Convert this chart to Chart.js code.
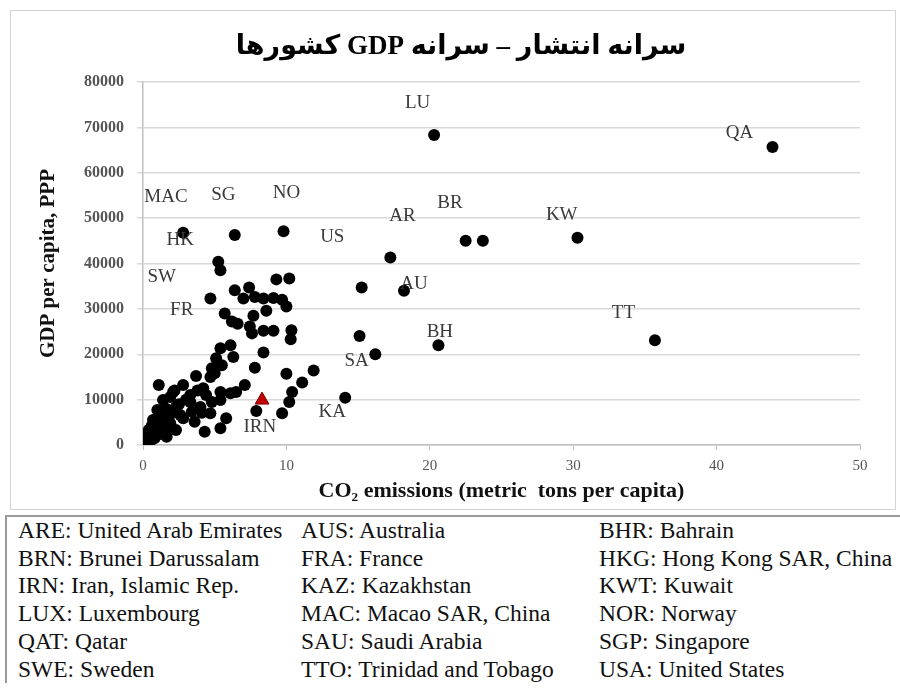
<!DOCTYPE html>
<html lang="en">
<head>
  <meta charset="UTF-8">
  <title>CO2 vs GDP per capita</title>
  <style>
    body {
      margin: 0;
      background: #fff;
      width: 900px;
      height: 695px;
      overflow: hidden;
      font-family: 'Liberation Serif', serif;
    }
    .chart-box {
      position: absolute;
      left: 10px;
      top: 10px;
      width: 884px;
      height: 498px;
      border: 1px solid #d4d4d4;
    }
    .legend-table {
      position: absolute;
      left: 5px;
      top: 515px;
      width: 895px;
      border-top: 2px solid #9a9a9a;
      border-left: 2px solid #9a9a9a;
      border-collapse: collapse;
      font-size: 23.5px;
      color: #111;
    }
    .legend-table td {
      padding: 0;
      height: 27.7px;
      line-height: 27.7px;
      white-space: nowrap;
    }
  </style>
  <script src="https://cdn.jsdelivr.net/npm/chart.js"></script>
</head>
<body>
  <div class="chart-box">
    <canvas id="co2Chart" width="884" height="498"></canvas>
  </div>
  <table class="legend-table" id="codes"></table>
  <script>
    // CO2 emissions (t per capita) and GDP per capita (PPP)
    const co2 = [20.3, 43.9, 2.8, 6.4, 9.8, 17.25, 22.5, 23.7, 30.3, 18.2, 15.25, 35.7, 20.6, 15.1, 16.2, 14.1,
      5.25, 5.4, 9.3, 10.2, 4.7, 6.4, 7.4, 7.0, 7.8, 8.4, 9.1, 9.7, 10.0, 5.7, 7.7, 8.6, 6.2, 6.6, 7.45, 7.6,
      8.4, 9.1, 10.35, 10.3, 5.4, 6.1, 5.1, 6.3, 4.8, 5.5, 8.4, 7.8, 11.9, 10.0, 11.1, 10.4, 10.2, 9.7, 7.9, 7.1,
      3.7, 5.0, 4.7, 2.8, 1.1, 4.2, 4.4, 5.4, 6.1, 6.5, 5.4, 4.8, 3.3, 3.4, 4.1, 4.7, 5.8, 5.4, 4.3, 3.6, 2.8,
      2.3, 1.9, 2.1, 1.4, 1.0, 0.7, 1.4, 1.9, 1.2, 0.5, 0.14, 0.4, 2.3, 1.65, 0.8, 2.6, 4.0, 3.3, 2.2, 3.0, 1.6,
      2.0, 0.6, 0.3, 0.1, 0.2, 0.9, 1.3, 2.5, 3.8, 0.5, 1.0, 1.7];
    const gdp = [68300, 65700, 46800, 46300, 47100, 41300, 45000, 45000, 45700, 34000, 34700, 23100, 22000, 24000, 20000, 10400,
      40400, 38500, 36500, 36700, 32300, 34100, 34700, 32300, 32600, 32300, 32400, 32000, 30500, 29000, 28500, 29600, 27200, 26700, 26100, 24600,
      25200, 25200, 25300, 23300, 21300, 22000, 19100, 19400, 16900, 17600, 20400, 17000, 16400, 15700, 13800, 11700, 9500, 7000, 7500, 13200,
      15200, 15800, 15000, 13200, 13200, 12500, 11000, 11700, 11400, 11700, 9900, 9500, 9500, 7300, 7100, 7000, 5900, 3700, 2900, 5100, 5900,
      8400, 10600, 11700, 9900, 7700, 5500, 6200, 4800, 3300, 2600, 1100, 3300, 3300, 1800, 1500, 6600, 8400, 11000, 12000, 10000, 8000,
      7000, 4200, 2000, 600, 300, 3000, 5000, 9000, 12000, 800, 2200, 3800];
    const iranCo2 = [8.3];
    const iranGdp = [9900];

    // point labels, placed where the text sits (data units)
    const labelCodes = ['LU', 'QA', 'MAC', 'SG', 'NO', 'HK', 'US', 'AR', 'BR', 'KW', 'SW', 'AU', 'FR', 'TT', 'BH', 'SA', 'KA', 'IRN'];
    const labelX = [19.15, 41.6, 1.6, 5.6, 10.0, 2.6, 13.2, 18.1, 21.4, 29.2, 1.3, 18.9, 2.7, 33.5, 20.7, 14.9, 13.2, 8.15];
    const labelY = [75300, 68700, 54600, 55100, 55500, 45200, 45800, 50400, 53300, 50700, 37000, 35500, 29700, 29100, 24900, 18500, 7300, 4000];

    const xTicks = [0, 10, 20, 30, 40, 50];
    const yTicks = [0, 10000, 20000, 30000, 40000, 50000, 60000, 70000, 80000];

    const codeList = [
      'ARE: United Arab Emirates', 'AUS: Australia', 'BHR: Bahrain',
      'BRN: Brunei Darussalam', 'FRA: France', 'HKG: Hong Kong SAR, China',
      'IRN: Iran, Islamic Rep.', 'KAZ: Kazakhstan', 'KWT: Kuwait',
      'LUX: Luxembourg', 'MAC: Macao SAR, China', 'NOR: Norway',
      'QAT: Qatar', 'SAU: Saudi Arabia', 'SGP: Singapore',
      'SWE: Sweden', 'TTO: Trinidad and Tobago', 'USA: United States'
    ];

    // legend table under the chart
    let html = '<colgroup><col style="width:295px"><col style="width:298px"><col></colgroup>';
    for (let r = 0; r < codeList.length; r += 3) {
      html += '<tr>';
      for (let c = 0; c < 3; c++) {
        html += `<td style="padding-left:${c === 0 ? 11 : 0}px">${codeList[r + c]}</td>`;
      }
      html += '</tr>';
    }
    document.getElementById('codes').innerHTML = html;

    const points = co2.map((v, i) => ({ x: v, y: gdp[i] }));
    const iranPoints = iranCo2.map((v, i) => ({ x: v, y: iranGdp[i] }));

    // title (rtl) and country code labels
    const annotations = {
      id: 'annotations',
      afterDatasetsDraw(chart) {
        const { ctx, scales } = chart;
        ctx.save();
        ctx.fillStyle = '#3a3a3a';
        ctx.font = '19px "Liberation Serif"';
        ctx.textAlign = 'center';
        ctx.textBaseline = 'middle';
        labelCodes.forEach((t, i) => {
          ctx.fillText(t, scales.x.getPixelForValue(labelX[i]), scales.y.getPixelForValue(labelY[i]));
        });
        ctx.direction = 'rtl';
        ctx.fillStyle = '#000';
        ctx.font = 'bold 27px "Liberation Serif", "DejaVu Sans"';
        ctx.fillText('سرانه انتشار – سرانه GDP کشورها', 450, 36);
        ctx.restore();
      }
    };

    const ctx = document.getElementById('co2Chart').getContext('2d');
    new Chart(ctx, {
      type: 'scatter',
      data: {
        datasets: [{
          label: 'Countries',
          data: points,
          backgroundColor: '#000',
          borderColor: '#000',
          borderWidth: 0,
          pointRadius: 6
        }, {
          label: 'Iran',
          data: iranPoints,
          pointStyle: 'triangle',
          backgroundColor: '#c00000',
          borderColor: '#800000',
          borderWidth: 1,
          pointRadius: 8
        }]
      },
      options: {
        responsive: false,
        animation: false,
        layout: { padding: { top: 71, right: 35, bottom: 0, left: 0 } },
        plugins: {
          legend: { display: false },
          tooltip: { enabled: false }
        },
        scales: {
          x: {
            type: 'linear',
            min: 0,
            max: 50,
            afterBuildTicks: s => { s.ticks = xTicks.map(v => ({ value: v })); },
            afterFit: s => { s.height = 64; },
            ticks: { color: '#555', font: { family: 'Liberation Serif', size: 15 }, padding: 7 },
            grid: { drawOnChartArea: false, tickLength: 5, color: '#bfbfbf' },
            border: { color: '#bfbfbf', width: 1.5 },
            title: {
              display: true,
              text: 'CO₂ emissions (metric  tons per capita)',
              color: '#111',
              font: { family: 'Liberation Serif', size: 22, weight: 'bold' },
              padding: { top: 0, bottom: 4 }
            }
          },
          y: {
            min: 0,
            max: 80000,
            afterBuildTicks: s => { s.ticks = yTicks.map(v => ({ value: v })); },
            afterFit: s => { s.width = 132; },
            ticks: {
              color: '#555',
              font: { family: 'Liberation Serif', size: 16, weight: 'bold' },
              padding: 13,
              callback: v => String(v)
            },
            grid: { color: '#d9d9d9', lineWidth: 1.5, tickLength: 6 },
            border: { color: '#bfbfbf', width: 1.5 },
            title: {
              display: true,
              text: 'GDP per capita, PPP',
              color: '#111',
              font: { family: 'Liberation Serif', size: 21, weight: 'bold' },
              padding: { top: 25, bottom: 0 }
            }
          }
        }
      },
      plugins: [annotations]
    });
  </script>
</body>
</html>
